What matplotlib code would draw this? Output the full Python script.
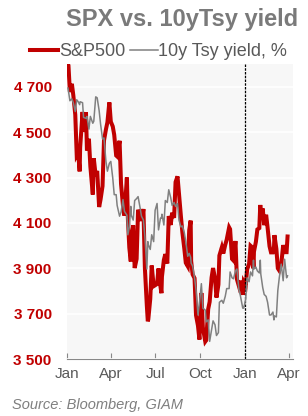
import matplotlib
import matplotlib.pyplot as plt
import matplotlib.dates as mdates
import pandas as pd

matplotlib.use("Agg")

plt.rcParams["font.family"] = ["Liberation Sans", "DejaVu Sans"]

RED = "#c00000"
GREY = "#808080"

dates = [
    "2022-01-03", "2022-01-04", "2022-01-07", "2022-01-11", "2022-01-14", "2022-01-18",
    "2022-01-21", "2022-01-24", "2022-01-27", "2022-01-28", "2022-02-02", "2022-02-04",
    "2022-02-09", "2022-02-11", "2022-02-15", "2022-02-18", "2022-02-23", "2022-02-25",
    "2022-03-01", "2022-03-04", "2022-03-08", "2022-03-11", "2022-03-15", "2022-03-18",
    "2022-03-22", "2022-03-25", "2022-03-29", "2022-04-01", "2022-04-05", "2022-04-08",
    "2022-04-12", "2022-04-14", "2022-04-19", "2022-04-22", "2022-04-26", "2022-04-29",
    "2022-05-04", "2022-05-06", "2022-05-09", "2022-05-12", "2022-05-13", "2022-05-17",
    "2022-05-20", "2022-05-24", "2022-05-27", "2022-05-31", "2022-06-03", "2022-06-07",
    "2022-06-10", "2022-06-14", "2022-06-16", "2022-06-17", "2022-06-21", "2022-06-24",
    "2022-06-28", "2022-07-01", "2022-07-05", "2022-07-08", "2022-07-12", "2022-07-14",
    "2022-07-15", "2022-07-19", "2022-07-22", "2022-07-26", "2022-07-29", "2022-08-02",
    "2022-08-05", "2022-08-09", "2022-08-12", "2022-08-16", "2022-08-19", "2022-08-23",
    "2022-08-26", "2022-08-30", "2022-09-02", "2022-09-06", "2022-09-09", "2022-09-12",
    "2022-09-13", "2022-09-16", "2022-09-20", "2022-09-23", "2022-09-27", "2022-09-30",
    "2022-10-04", "2022-10-07", "2022-10-12", "2022-10-14", "2022-10-18", "2022-10-21",
    "2022-10-25", "2022-10-28", "2022-11-01", "2022-11-04", "2022-11-08", "2022-11-10",
    "2022-11-15", "2022-11-18", "2022-11-22", "2022-11-25", "2022-11-30", "2022-12-02",
    "2022-12-06", "2022-12-09", "2022-12-13", "2022-12-16", "2022-12-20", "2022-12-23",
    "2022-12-28", "2022-12-30", "2023-01-03", "2023-01-06", "2023-01-10", "2023-01-13",
    "2023-01-17", "2023-01-19", "2023-01-20", "2023-01-24", "2023-01-27", "2023-01-31",
    "2023-02-02", "2023-02-03", "2023-02-07", "2023-02-10", "2023-02-14", "2023-02-17",
    "2023-02-21", "2023-02-24", "2023-02-28", "2023-03-02", "2023-03-03", "2023-03-07",
    "2023-03-10", "2023-03-13", "2023-03-17", "2023-03-21", "2023-03-24", "2023-03-28",
    "2023-03-30",
]

spx = [
    4797, 4794, 4677, 4713, 4662, 4577,
    4398, 4410, 4327, 4432, 4589, 4501,
    4587, 4419, 4471, 4349, 4225, 4385,
    4306, 4329, 4170, 4204, 4262, 4463,
    4512, 4543, 4631, 4546, 4525, 4488,
    4397, 4393, 4462, 4272, 4176, 4132,
    4300, 4123, 3991, 3930, 4024, 4089,
    3901, 3941, 4158, 4132, 4109, 4161,
    3901, 3735, 3666, 3675, 3765, 3912,
    3821, 3825, 3831, 3899, 3819, 3790,
    3863, 3937, 3962, 3921, 4130, 4091,
    4145, 4122, 4280, 4305, 4228, 4128,
    4058, 3986, 3924, 3909, 4067, 4110,
    3932, 3873, 3856, 3693, 3647, 3586,
    3791, 3640, 3577, 3583, 3720, 3752,
    3859, 3901, 3856, 3771, 3828, 3956,
    3992, 3965, 4003, 4026, 4080, 4072,
    3941, 3934, 4020, 3852, 3822, 3845,
    3783, 3840, 3824, 3895, 3919, 3999,
    3991, 3899, 3973, 4017, 4071, 4077,
    4179, 4136, 4164, 4090, 4136, 4079,
    3997, 3970, 3970, 3981, 4046, 3986,
    3900, 3890, 3917, 4002, 3971, 3971,
    4040,
]

ust10y = [
    1.63, 1.66, 1.76, 1.74, 1.78, 1.87,
    1.75, 1.77, 1.80, 1.77, 1.78, 1.93,
    1.94, 1.92, 2.05, 1.92, 1.99, 1.97,
    1.72, 1.73, 1.86, 2.00, 2.15, 2.14,
    2.38, 2.48, 2.40, 2.38, 2.55, 2.72,
    2.72, 2.83, 2.94, 2.90, 2.77, 2.89,
    2.93, 3.13, 3.05, 2.84, 2.93, 2.98,
    2.78, 2.76, 2.74, 2.85, 2.94, 2.98,
    3.15, 3.48, 3.20, 3.23, 3.28, 3.13,
    3.20, 2.88, 2.81, 3.08, 2.96, 2.96,
    2.92, 3.03, 2.78, 2.80, 2.67, 2.75,
    2.83, 2.80, 2.84, 2.81, 2.98, 3.05,
    3.04, 3.11, 3.20, 3.35, 3.32, 3.36,
    3.42, 3.45, 3.57, 3.69, 3.95, 3.83,
    3.63, 3.88, 3.90, 4.02, 4.00, 4.22,
    4.10, 4.01, 4.05, 4.16, 4.13, 3.82,
    3.80, 3.83, 3.76, 3.68, 3.68, 3.51,
    3.57, 3.58, 3.50, 3.48, 3.69, 3.75,
    3.88, 3.88, 3.79, 3.57, 3.61, 3.51,
    3.55, 3.39, 3.48, 3.46, 3.50, 3.52,
    3.39, 3.53, 3.67, 3.74, 3.76, 3.82,
    3.95, 3.95, 3.92, 4.00, 3.96, 3.97,
    3.70, 3.57, 3.43, 3.60, 3.38, 3.57,
    3.55,
]

spx_ticks = [3500, 3700, 3900, 4100, 4300, 4500, 4700]
month_ticks = ["2022-01-01", "2022-04-01", "2022-07-01", "2022-10-01", "2023-01-01", "2023-04-01"]
year_break = "2023-01-01"


def main() -> None:
    x = pd.to_datetime(dates)

    fig = plt.figure(figsize=(3.08, 4.16), dpi=100)
    ax = fig.add_axes([0.2175, 0.137, 0.7335, 0.709])
    ax.set_facecolor("#f7f7f7")

    ax.plot(x, spx, color=RED, lw=2.9, solid_joinstyle="miter", label="S&P500")
    ax.set_ylim(3500, 4800)
    ax.set_yticks(spx_ticks)
    ax.set_yticklabels([f"{v // 1000} {v % 1000:03d}" for v in spx_ticks],
                       color=RED, fontweight="bold", fontsize=11)
    ax.grid(axis="y", color="white", lw=1.2)
    ax.set_axisbelow(True)
    ax.tick_params(axis="y", length=0, pad=11)

    ax.set_xlim(pd.Timestamp("2022-01-01"), pd.Timestamp("2023-04-10"))
    ax.set_xticks(pd.to_datetime(month_ticks))
    ax.xaxis.set_major_formatter(mdates.DateFormatter("%b"))
    ax.tick_params(axis="x", direction="in", length=4, color="#888888",
                   labelcolor="#595959", labelsize=11, pad=6)

    for side in ["top", "right", "left"]:
        ax.spines[side].set_visible(False)
    ax.spines["bottom"].set_color("#888888")

    ax.axvline(pd.Timestamp(year_break), color="black", lw=0.9, ls=(0, (2, 1)),
               ymax=1.0, clip_on=False)

    ax2 = ax.twinx()
    ax2.plot(x, ust10y, color=GREY, lw=1.1, label="10y Tsy yield, %")
    ax2.set_ylim(4.40, 1.385)
    ax2.set_yticks([])
    for side in ax2.spines:
        ax2.spines[side].set_visible(False)

    fig.text(0.59, 0.952, "SPX vs. 10yTsy yield", ha="center", va="center",
             fontsize=17, fontweight="bold", color="#7a7a7a")

    handles = ax.get_lines()[:1] + ax2.get_lines()[:1]
    fig.legend(handles, [h.get_label() for h in handles], loc="center",
               bbox_to_anchor=(0.515, 0.875), ncol=2, frameon=False,
               fontsize=13, handlelength=1.55, handletextpad=0.05,
               columnspacing=0.25, labelcolor="#595959", borderpad=0)

    fig.text(0.039, 0.01, "Source: Bloomberg, GIAM", ha="left", va="bottom",
             fontsize=10.5, style="italic", color="#7f7f7f")

    fig.savefig("out.png", dpi=100)
    plt.close(fig)


if __name__ == "__main__":
    main()
